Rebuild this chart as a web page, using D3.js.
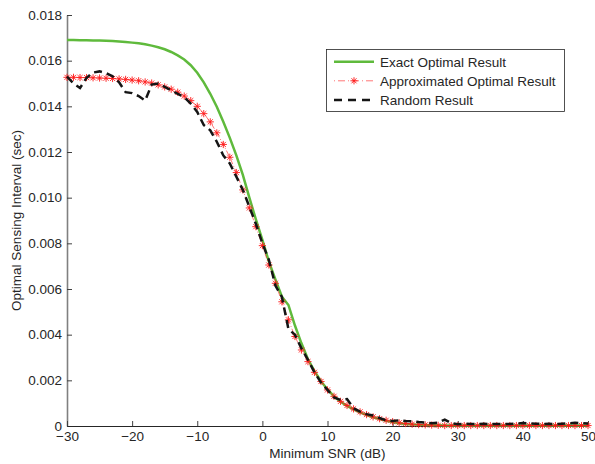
<!DOCTYPE html>
<html>
<head>
<meta charset="utf-8">
<script src="https://cdn.jsdelivr.net/npm/d3@7"></script>
<style>
  body { margin: 0; background: #fff; }
  svg { display: block; }
  text { font-family: "Liberation Sans", Arial, Helvetica, sans-serif; font-size: 13.5px; fill: #262626; }
</style>
</head>
<body>
<div id="chart"></div>
<script>
// SNR values (dB), one point per dB
const snr = d3.range(-30, 51);

// Exact optimal result
const exactVals = [
  0.01690, 0.01690, 0.01689, 0.01689, 0.01688, 0.01688, 0.01687, 0.01686, 0.01684, 0.01682,
  0.01679, 0.01676, 0.01672, 0.01666, 0.01659, 0.01650, 0.01638, 0.01623, 0.01605, 0.01580,
  0.01547, 0.01505, 0.01455, 0.01398, 0.01332, 0.01262, 0.01185, 0.01100, 0.01000, 0.00905,
  0.00815, 0.00720, 0.00642, 0.00566, 0.00530, 0.00440, 0.00362, 0.00292, 0.00240, 0.00196,
  0.00160, 0.00130, 0.00106, 0.00088, 0.00073, 0.00060, 0.00048, 0.00038, 0.00030, 0.00023,
  0.00017, 0.00012, 0.00009, 0.00007, 0.00005, 0.00004, 0.00003, 0.00003, 0.00002, 0.00002,
  0.00002, 0.00002, 0.00002, 0.00002, 0.00002, 0.00002, 0.00002, 0.00002, 0.00002, 0.00002,
  0.00002, 0.00002, 0.00002, 0.00002, 0.00002, 0.00002, 0.00002, 0.00002, 0.00002, 0.00002,
  0.00002
];

// Approximated optimal result
const approxVals = [
  0.01527, 0.01527, 0.01526, 0.01526, 0.01525, 0.01524, 0.01523, 0.01522, 0.01520, 0.01518,
  0.01515, 0.01512, 0.01507, 0.01502, 0.01494, 0.01485, 0.01475, 0.01462, 0.01445, 0.01425,
  0.01400, 0.01368, 0.01332, 0.01284, 0.01233, 0.01177, 0.01110, 0.01034, 0.00955, 0.00873,
  0.00790, 0.00705, 0.00625, 0.00544, 0.00465, 0.00392, 0.00333, 0.00282, 0.00235, 0.00195,
  0.00158, 0.00130, 0.00108, 0.00090, 0.00075, 0.00062, 0.00050, 0.00040, 0.00032, 0.00025,
  0.00019, 0.00014, 0.00011, 0.00008, 0.00006, 0.00005, 0.00004, 0.00003, 0.00002, 0.00002,
  0.00002, 0.00002, 0.00002, 0.00002, 0.00002, 0.00002, 0.00002, 0.00002, 0.00002, 0.00002,
  0.00002, 0.00002, 0.00002, 0.00002, 0.00002, 0.00002, 0.00002, 0.00002, 0.00002, 0.00002,
  0.00002
];

// Random result
const randomVals = [
  0.01530, 0.01500, 0.01480, 0.01525, 0.01548, 0.01553, 0.01545, 0.01532, 0.01505, 0.01462,
  0.01458, 0.01445, 0.01425, 0.01495, 0.01500, 0.01485, 0.01470, 0.01455, 0.01440, 0.01412,
  0.01375, 0.01318, 0.01295, 0.01245, 0.01185, 0.01150, 0.01092, 0.01034, 0.00960, 0.00885,
  0.00800, 0.00728, 0.00615, 0.00565, 0.00425, 0.00400, 0.00340, 0.00290, 0.00235, 0.00190,
  0.00158, 0.00125, 0.00114, 0.00118, 0.00078, 0.00063, 0.00052, 0.00046, 0.00035, 0.00025,
  0.00022, 0.00025, 0.00022, 0.00020, 0.00017, 0.00015, 0.00012, 0.00015, 0.00028, 0.00012,
  0.00008, 0.00010, 0.00009, 0.00008, 0.00010, 0.00008, 0.00009, 0.00008, 0.00009, 0.00010,
  0.00013, 0.00011, 0.00010, 0.00009, 0.00010, 0.00008, 0.00010, 0.00012, 0.00014, 0.00012,
  0.00011
];

const xTicks = [-30, -20, -10, 0, 10, 20, 30, 40, 50];
const yTicks = [0, 0.002, 0.004, 0.006, 0.008, 0.01, 0.012, 0.014, 0.016, 0.018];
const legendLabels = ["Exact Optimal Result", "Approximated Optimal Result", "Random Result"];

const width = 595;
const height = 464;
const plot = { left: 67, right: 588, top: 15, bottom: 426 };

const svg = d3.select('#chart').append('svg')
  .attr('width', width)
  .attr('height', height);

const x = d3.scaleLinear().domain([-30, 50]).range([plot.left, plot.right]);
const y = d3.scaleLinear().domain([0, 0.018]).range([plot.bottom, plot.top]);

// axes (ticks point inward, like matlab)
const fmtY = d => d === 0 ? "0" : d3.format(".3f")(d);
const fmtX = d => d < 0 ? "\u2212" + Math.abs(d) : String(d);

const yAxis = svg.append('g')
  .attr('transform', `translate(${plot.left},0)`)
  .call(d3.axisLeft(y).tickValues(yTicks).tickFormat(fmtY).tickSizeInner(-5).tickSizeOuter(0).tickPadding(5));
yAxis.select('.domain').attr('stroke', '#808080').attr('stroke-width', 1.6);
yAxis.selectAll('.tick line').attr('stroke', '#404040');
yAxis.selectAll('.tick text').attr('font-size', null).attr('font-family', null).attr('fill', '#262626').attr('dy', '0.3em');

const xAxis = svg.append('g')
  .attr('transform', `translate(0,${plot.bottom})`)
  .call(d3.axisBottom(x).tickValues(xTicks).tickFormat(fmtX).tickSizeInner(-5).tickSizeOuter(0).tickPadding(5));
xAxis.select('.domain').attr('stroke', '#262626').attr('stroke-width', 1);
xAxis.selectAll('.tick line').attr('stroke', '#404040');
xAxis.selectAll('.tick text').attr('font-size', null).attr('font-family', null).attr('fill', '#262626');

svg.append('text')
  .attr('x', (plot.left + plot.right) / 2)
  .attr('y', 458)
  .attr('text-anchor', 'middle')
  .text('Minimum SNR (dB)');

svg.append('text')
  .attr('transform', `translate(21,${(plot.top + plot.bottom) / 2}) rotate(-90)`)
  .attr('text-anchor', 'middle')
  .text('Optimal Sensing Interval (sec)');

// series
const line = d3.line().x(d => x(d[0])).y(d => y(d[1]));
const zip = vals => snr.map((s, i) => [s, vals[i]]);

const green = '#5fba3c';
const red = '#ff1a1a';

svg.append('path')
  .datum(zip(exactVals))
  .attr('d', line)
  .attr('fill', 'none')
  .attr('stroke', green)
  .attr('stroke-width', 2.5);

svg.append('path')
  .datum(zip(approxVals))
  .attr('d', line)
  .attr('fill', 'none')
  .attr('stroke', red)
  .attr('stroke-width', 0.6)
  .attr('stroke-dasharray', '5,2,1,2');

const star = r => {
  const s = r * Math.SQRT1_2;
  return `M${-r},0L${r},0M0,${-r}L0,${r}M${-s},${-s}L${s},${s}M${-s},${s}L${s},${-s}`;
};

svg.append('g').selectAll('path')
  .data(zip(approxVals))
  .enter()
  .append('path')
  .attr('transform', d => `translate(${x(d[0])},${y(d[1])})`)
  .attr('d', star(3.6))
  .attr('fill', 'none')
  .attr('stroke', red)
  .attr('stroke-width', 0.9);

svg.append('path')
  .datum(zip(randomVals))
  .attr('d', line)
  .attr('fill', 'none')
  .attr('stroke', '#151515')
  .attr('stroke-width', 2.5)
  .attr('stroke-dasharray', '8,5');

// legend
const legend = svg.append('g');
legend.append('rect')
  .attr('x', 326.5).attr('y', 49.5)
  .attr('width', 238).attr('height', 62)
  .attr('fill', '#fff')
  .attr('stroke', '#262626')
  .attr('stroke-width', 0.8);

const rowY = [61.7, 80.8, 100];
legendLabels.forEach((label, i) => {
  const row = legend.append('g');
  if (i === 0) {
    row.append('line').attr('x1', 334).attr('x2', 374).attr('y1', rowY[i]).attr('y2', rowY[i])
      .attr('stroke', green).attr('stroke-width', 2.5);
  } else if (i === 1) {
    row.append('line').attr('x1', 334).attr('x2', 374).attr('y1', rowY[i]).attr('y2', rowY[i])
      .attr('stroke', red).attr('stroke-width', 0.6).attr('stroke-dasharray', '1,3,7,3');
    row.append('path').attr('transform', `translate(354,${rowY[i]})`).attr('d', star(3.6))
      .attr('fill', 'none').attr('stroke', red).attr('stroke-width', 0.9);
  } else {
    row.append('line').attr('x1', 334).attr('x2', 374).attr('y1', rowY[i]).attr('y2', rowY[i])
      .attr('stroke', '#151515').attr('stroke-width', 2.5).attr('stroke-dasharray', '8,6');
  }
  row.append('text')
    .attr('x', 380)
    .attr('y', rowY[i])
    .attr('dy', '0.36em')
    .text(label);
});
</script>
</body>
</html>
